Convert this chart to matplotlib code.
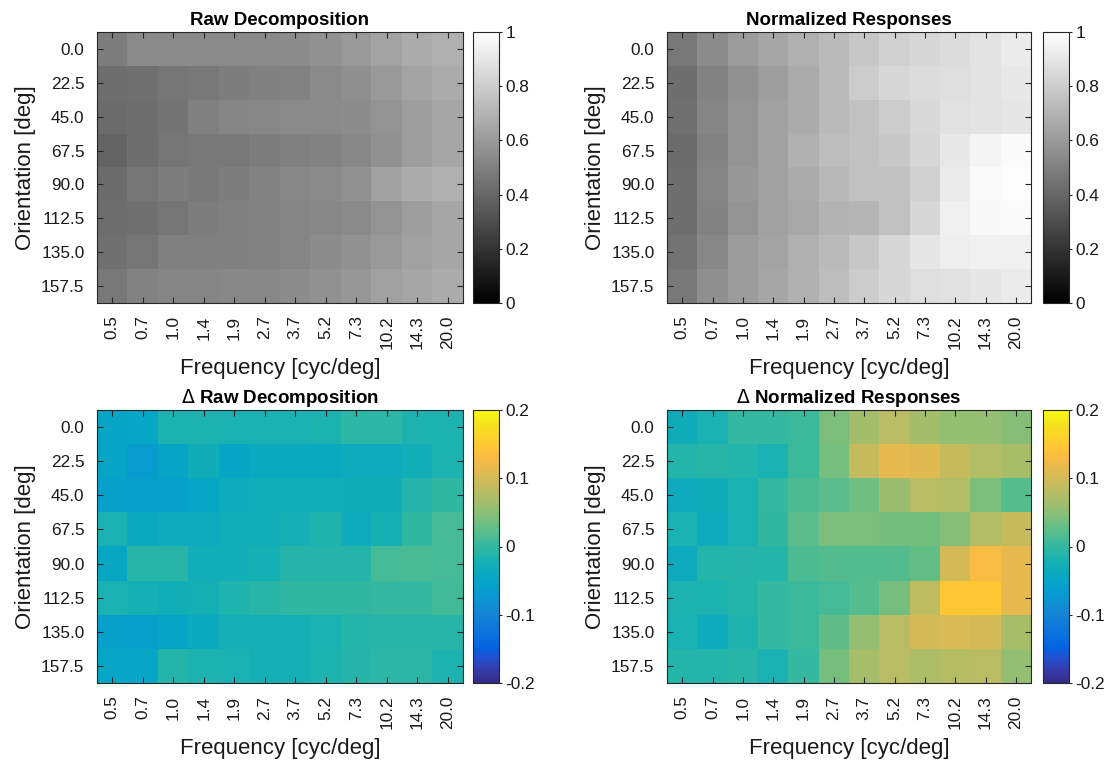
import numpy as np
import matplotlib.pyplot as plt
from matplotlib.colors import LinearSegmentedColormap

plt.rcParams['font.family'] = ['Liberation Sans', 'DejaVu Sans']

# %% data
freqs = ['0.5', '0.7', '1.0', '1.4', '1.9', '2.7', '3.7', '5.2', '7.3', '10.2', '14.3', '20.0']
orients = ['0.0', '22.5', '45.0', '67.5', '90.0', '112.5', '135.0', '157.5']

raw = [
    [0.49, 0.54, 0.54, 0.54, 0.54, 0.54, 0.55, 0.57, 0.60, 0.64, 0.67, 0.69],
    [0.43, 0.44, 0.46, 0.47, 0.49, 0.50, 0.51, 0.54, 0.56, 0.60, 0.64, 0.67],
    [0.42, 0.43, 0.45, 0.50, 0.52, 0.53, 0.54, 0.54, 0.55, 0.58, 0.62, 0.65],
    [0.39, 0.43, 0.46, 0.47, 0.47, 0.49, 0.50, 0.51, 0.53, 0.57, 0.62, 0.65],
    [0.42, 0.46, 0.49, 0.48, 0.49, 0.51, 0.53, 0.54, 0.57, 0.63, 0.67, 0.69],
    [0.43, 0.44, 0.46, 0.49, 0.50, 0.51, 0.52, 0.53, 0.54, 0.58, 0.62, 0.65],
    [0.44, 0.46, 0.50, 0.50, 0.50, 0.51, 0.52, 0.55, 0.57, 0.60, 0.63, 0.65],
    [0.47, 0.51, 0.52, 0.52, 0.53, 0.53, 0.55, 0.57, 0.59, 0.63, 0.65, 0.67],
]

norm = [
    [0.47, 0.55, 0.61, 0.65, 0.69, 0.73, 0.78, 0.82, 0.84, 0.86, 0.89, 0.92],
    [0.43, 0.51, 0.57, 0.62, 0.67, 0.73, 0.80, 0.84, 0.86, 0.87, 0.89, 0.91],
    [0.44, 0.52, 0.58, 0.63, 0.67, 0.73, 0.76, 0.80, 0.85, 0.88, 0.89, 0.90],
    [0.42, 0.51, 0.58, 0.63, 0.69, 0.74, 0.76, 0.78, 0.84, 0.91, 0.96, 0.98],
    [0.43, 0.52, 0.59, 0.63, 0.67, 0.72, 0.75, 0.76, 0.82, 0.92, 0.98, 0.99],
    [0.43, 0.51, 0.58, 0.63, 0.66, 0.70, 0.71, 0.75, 0.84, 0.94, 0.97, 0.98],
    [0.45, 0.53, 0.61, 0.64, 0.69, 0.73, 0.78, 0.84, 0.90, 0.93, 0.94, 0.94],
    [0.48, 0.56, 0.61, 0.65, 0.69, 0.74, 0.80, 0.84, 0.87, 0.88, 0.90, 0.92],
]

d_raw = [
    [-0.050, -0.048, -0.018, -0.018, -0.020, -0.020, -0.020, -0.018, -0.005, -0.005, -0.018, -0.018],
    [-0.050, -0.065, -0.050, -0.030, -0.050, -0.040, -0.040, -0.040, -0.035, -0.035, -0.028, -0.018],
    [-0.058, -0.058, -0.058, -0.048, -0.035, -0.028, -0.028, -0.028, -0.030, -0.030, -0.010, -0.002],
    [-0.020, -0.040, -0.035, -0.035, -0.028, -0.028, -0.022, -0.015, -0.035, -0.022, -0.003, 0.012],
    [-0.045, -0.008, -0.008, -0.028, -0.028, -0.022, -0.010, -0.010, -0.010, 0.010, 0.013, 0.010],
    [-0.020, -0.022, -0.028, -0.025, -0.015, -0.008, -0.003, -0.003, -0.003, 0.000, 0.000, 0.008],
    [-0.058, -0.058, -0.050, -0.038, -0.025, -0.025, -0.025, -0.020, -0.012, -0.008, -0.008, -0.008],
    [-0.048, -0.048, -0.012, -0.018, -0.020, -0.025, -0.025, -0.018, -0.010, -0.005, -0.005, -0.018],
]

d_norm = [
    [-0.030, -0.020, 0.000, 0.000, 0.005, 0.042, 0.067, 0.080, 0.066, 0.055, 0.055, 0.047],
    [-0.012, -0.008, -0.012, -0.020, 0.006, 0.038, 0.090, 0.115, 0.110, 0.090, 0.075, 0.070],
    [-0.035, -0.030, -0.020, 0.000, 0.015, 0.022, 0.035, 0.060, 0.080, 0.075, 0.042, 0.020],
    [-0.020, -0.035, -0.020, -0.002, 0.022, 0.042, 0.042, 0.036, 0.036, 0.046, 0.075, 0.090],
    [-0.035, -0.012, -0.010, -0.012, 0.015, 0.018, 0.018, 0.018, 0.027, 0.100, 0.130, 0.115],
    [-0.018, -0.018, -0.012, 0.000, 0.006, 0.012, 0.020, 0.038, 0.085, 0.148, 0.148, 0.115],
    [-0.020, -0.033, -0.015, 0.000, 0.006, 0.025, 0.055, 0.080, 0.100, 0.105, 0.100, 0.070],
    [-0.012, -0.012, -0.008, -0.020, 0.000, 0.038, 0.068, 0.080, 0.073, 0.078, 0.080, 0.055],
]

# %% parula-like colormap
parula = LinearSegmentedColormap.from_list('parula', [
    (0.000, (0.2081, 0.1663, 0.5292)),
    (0.048, (0.2081, 0.2386, 0.6771)),
    (0.095, (0.1253, 0.3242, 0.8303)),
    (0.127, (0.0117, 0.3875, 0.8820)),
    (0.190, (0.0498, 0.4586, 0.8641)),
    (0.254, (0.0794, 0.5200, 0.8312)),
    (0.317, (0.0343, 0.5966, 0.8199)),
    (0.381, (0.0228, 0.6535, 0.7768)),
    (0.444, (0.0843, 0.6928, 0.7062)),
    (0.508, (0.2178, 0.7250, 0.6193)),
    (0.571, (0.3953, 0.7459, 0.5244)),
    (0.635, (0.5709, 0.7485, 0.4494)),
    (0.698, (0.7184, 0.7411, 0.3905)),
    (0.762, (0.8507, 0.7299, 0.3360)),
    (0.825, (0.9739, 0.7314, 0.2666)),
    (0.857, (0.9990, 0.7653, 0.2164)),
    (0.889, (0.9880, 0.8066, 0.1794)),
    (0.952, (0.9588, 0.8949, 0.1132)),
    (1.000, (0.9763, 0.9831, 0.0538)),
])

# %% figure
W, H = 1108, 762
fig = plt.figure(figsize=(W / 100, H / 100), dpi=100)

panels = [
    (raw, 'Raw Decomposition', 'gray', 0, 1, [0, 0.2, 0.4, 0.6, 0.8, 1], (97, 32, 463, 303), 473),
    (norm, 'Normalized Responses', 'gray', 0, 1, [0, 0.2, 0.4, 0.6, 0.8, 1], (667, 32, 1031, 303), 1043),
    (d_raw, r'$\Delta$ Raw Decomposition', parula, -0.2, 0.2, [-0.2, -0.1, 0, 0.1, 0.2], (97, 410, 463, 683), 473),
    (d_norm, r'$\Delta$ Normalized Responses', parula, -0.2, 0.2, [-0.2, -0.1, 0, 0.1, 0.2], (667, 410, 1031, 683), 1043),
]

dark = '#262626'
for data, title, cmap, vmin, vmax, cticks, (x0, y0, x1, y1), cbx in panels:
    ax = fig.add_axes([x0 / W, 1 - y1 / H, (x1 - x0) / W, (y1 - y0) / H])
    im = ax.imshow(np.array(data), cmap=cmap, vmin=vmin, vmax=vmax, aspect='auto',
                   interpolation='nearest')
    ax.set_xticks(range(len(freqs)))
    ax.set_xticklabels(freqs, rotation=90)
    ax.set_yticks(range(len(orients)))
    ax.set_yticklabels(orients)
    ax.tick_params(direction='in', top=True, right=True, length=4, width=0.8,
                   labelsize=12.4, colors=dark, labelcolor='#1a1a1a', pad=9)
    for s in ax.spines.values():
        s.set_color(dark)
        s.set_linewidth(0.8)
    ax.set_xlabel('Frequency [cyc/deg]', fontsize=16, labelpad=6, color='#1a1a1a')
    ax.set_ylabel('Orientation [deg]', fontsize=16, labelpad=4, color='#1a1a1a')
    ax.set_title(title, fontsize=13.5, fontweight='bold', pad=5)

    cax = fig.add_axes([cbx / W, 1 - y1 / H, 26 / W, (y1 - y0) / H])
    cb = fig.colorbar(im, cax=cax, ticks=cticks)
    cb.ax.set_yticklabels([f'{t:g}' for t in cticks])
    cb.ax.tick_params(direction='out', length=2.5, width=0.8, labelsize=12.4, colors=dark,
                      labelcolor='#1a1a1a', pad=2)
    cb.outline.set_edgecolor(dark)
    cb.outline.set_linewidth(0.8)

fig.savefig('out.png', dpi=100)
